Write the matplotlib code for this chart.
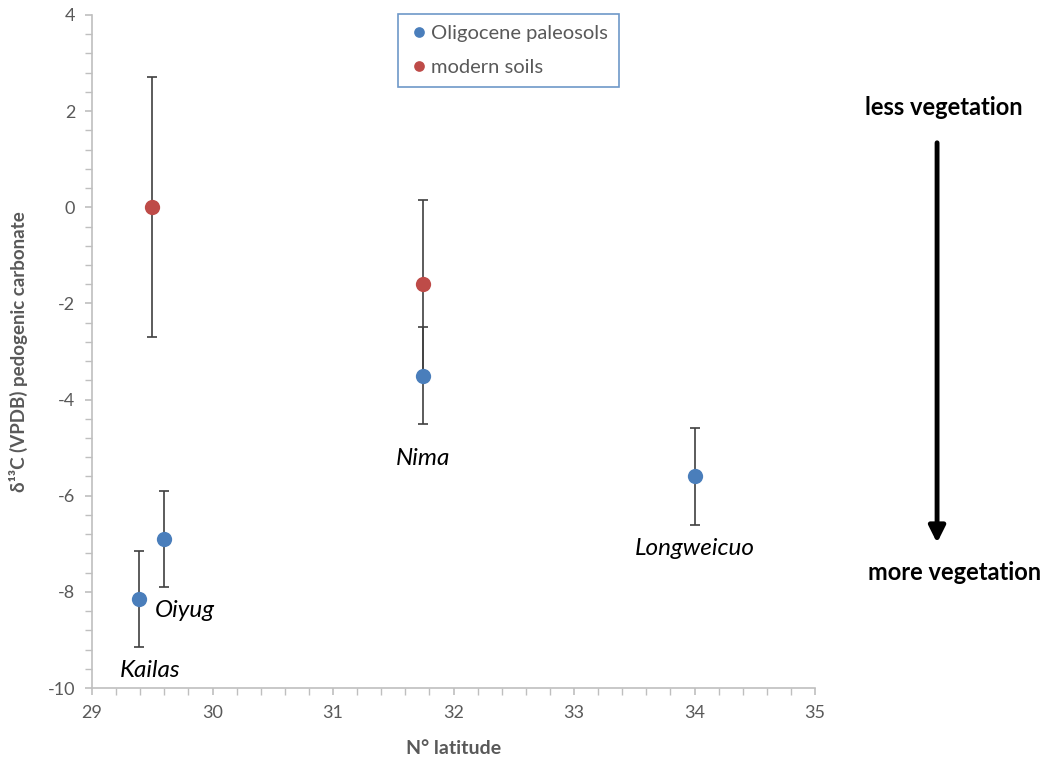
import matplotlib
matplotlib.use("Agg")
import matplotlib.pyplot as plt
from matplotlib.ticker import MultipleLocator

plt.rcParams['font.family'] = ['Lato', 'DejaVu Sans']
plt.rcParams['axes.unicode_minus'] = False

# Oligocene paleosols
paleo_lat = [29.39, 29.6, 31.75, 34.0]
paleo_d13c = [-8.15, -6.9, -3.5, -5.6]
paleo_err = [1.0, 1.0, 1.0, 1.0]
site_names = ["Kailas", "Oiyug", "Nima", "Longweicuo"]

# modern soils
modern_lat = [29.5, 31.75]
modern_d13c = [0.0, -1.6]
modern_err_low = [2.7, 1.85]
modern_err_high = [2.7, 1.75]

blue = '#4a7ebb'
red = '#be4b48'
grey_txt = '#595959'
axis_col = '#bfbfbf'

fig = plt.figure(figsize=(10.47, 7.61), dpi=100)
ax = fig.add_axes([0.0879, 0.0959, 0.6906, 0.8844])

eb_kw = dict(fmt='none', ecolor='#404040', elinewidth=1.2, capsize=3.5, capthick=1.2, zorder=2)
ax.errorbar(paleo_lat, paleo_d13c, yerr=paleo_err, **eb_kw)
ax.errorbar(modern_lat, modern_d13c, yerr=[modern_err_low, modern_err_high], **eb_kw)
ax.plot(paleo_lat, paleo_d13c, 'o', color=blue, ms=11, mec='none', zorder=3, label='Oligocene paleosols')
ax.plot(modern_lat, modern_d13c, 'o', color=red, ms=11, mec='none', zorder=3, label='modern soils')

# site labels
label_pos = [(29.48, -9.63), (29.77, -8.38), (31.75, -5.22), (34.0, -7.09)]
for name, (lx, ly) in zip(site_names, label_pos):
    ax.text(lx, ly, name, style='italic', fontsize=17.5, ha='center', va='center', color='black')

ax.set_xlim(29, 35)
ax.set_ylim(-10, 4)
ax.xaxis.set_major_locator(MultipleLocator(1))
ax.xaxis.set_minor_locator(MultipleLocator(0.2))
ax.yaxis.set_major_locator(MultipleLocator(2))
ax.yaxis.set_minor_locator(MultipleLocator(0.4))

for s in ['top', 'right']:
    ax.spines[s].set_visible(False)
for s in ['left', 'bottom']:
    ax.spines[s].set_color(axis_col)
    ax.spines[s].set_linewidth(1.2)
ax.tick_params(which='both', color=axis_col, labelcolor=grey_txt, labelsize=13, direction='out')
ax.tick_params(which='major', length=5, width=1.2, pad=7)
ax.tick_params(which='minor', length=5, width=1)

ax.set_xlabel('N° latitude', fontsize=14, fontweight='bold', color=grey_txt, labelpad=14)
ax.set_ylabel('δ¹³C (VPDB) pedogenic carbonate', fontsize=13.5, fontweight='bold', color=grey_txt, labelpad=14)

leg = ax.legend(loc='upper left', bbox_to_anchor=(0.38, 0.982), bbox_transform=fig.transFigure,
                fontsize=14.5, frameon=True, fancybox=False, handletextpad=0.1, handlelength=1.0,
                markerscale=0.7, borderpad=0.55, labelspacing=0.85, labelcolor=grey_txt,
                borderaxespad=0)
leg.get_frame().set_edgecolor(blue)
leg.get_frame().set_linewidth(1.2)

# vegetation arrow outside axes
fig.text(0.901, 0.859, 'less vegetation', fontsize=17, fontweight='bold', ha='center', va='center')
fig.text(0.912, 0.248, 'more vegetation', fontsize=17, fontweight='bold', ha='center', va='center')
fig.add_artist(matplotlib.patches.FancyArrowPatch((0.895, 0.816), (0.895, 0.283), transform=fig.transFigure,
                                                  arrowstyle='-|>,head_length=0.7,head_width=0.35',
                                                  mutation_scale=14, lw=3.5, color='black'))

fig.savefig('out.png', dpi=100)
